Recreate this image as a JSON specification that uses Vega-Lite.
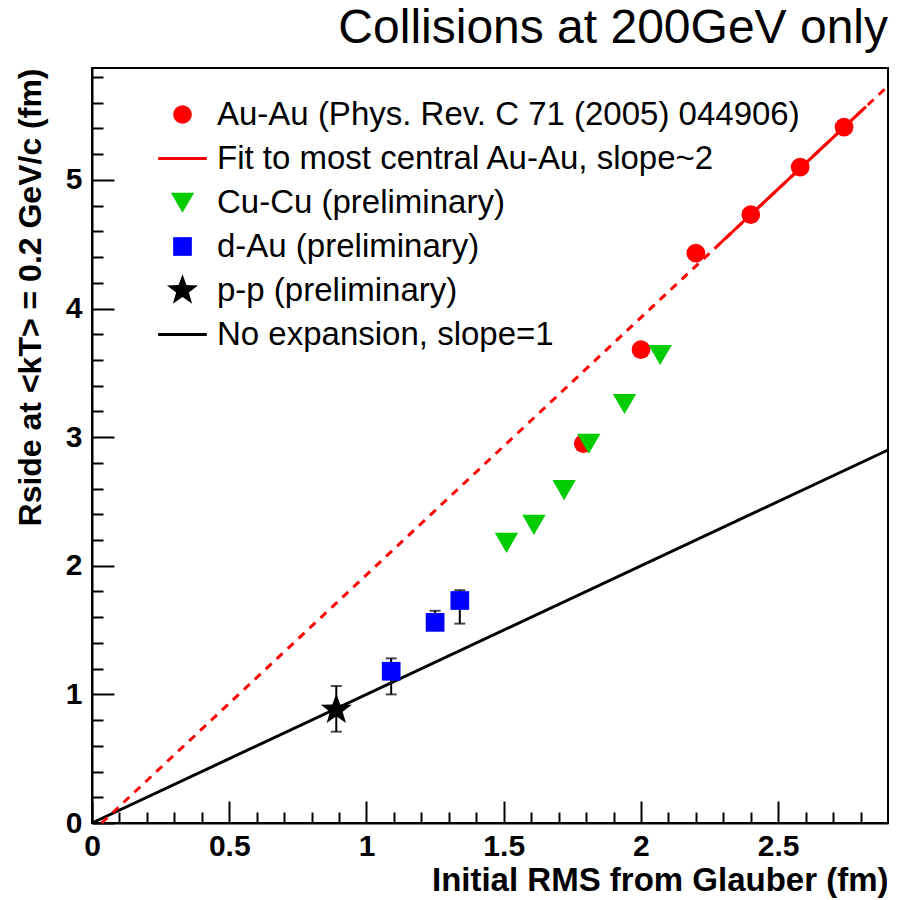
{
  "$schema": "https://vega.github.io/schema/vega-lite/v6.json",
  "width": 796,
  "height": 755,
  "autosize": {"type": "none"},
  "padding": {"left": 92, "top": 68, "right": 13, "bottom": 77},
  "background": "white",
  "title": {
    "text": "Collisions at 200GeV only",
    "anchor": "end",
    "frame": "group",
    "fontSize": 48,
    "fontWeight": "normal",
    "font": "Liberation Sans",
    "color": "black",
    "baseline": "alphabetic",
    "offset": 21,
    "dy": 50
  },
  "datasets": {
    "points": [
      {"series": "Au-Au (Phys. Rev. C 71 (2005) 044906)", "x": 1.79, "y": 2.95},
      {"series": "Au-Au (Phys. Rev. C 71 (2005) 044906)", "x": 2.0, "y": 3.68},
      {"series": "Au-Au (Phys. Rev. C 71 (2005) 044906)", "x": 2.2, "y": 4.43},
      {"series": "Au-Au (Phys. Rev. C 71 (2005) 044906)", "x": 2.4, "y": 4.73},
      {"series": "Au-Au (Phys. Rev. C 71 (2005) 044906)", "x": 2.58, "y": 5.1},
      {"series": "Au-Au (Phys. Rev. C 71 (2005) 044906)", "x": 2.74, "y": 5.41},
      {"series": "Cu-Cu (preliminary)", "x": 1.51, "y": 2.18},
      {"series": "Cu-Cu (preliminary)", "x": 1.61, "y": 2.32},
      {"series": "Cu-Cu (preliminary)", "x": 1.72, "y": 2.59},
      {"series": "Cu-Cu (preliminary)", "x": 1.81, "y": 2.95},
      {"series": "Cu-Cu (preliminary)", "x": 1.94, "y": 3.26},
      {"series": "Cu-Cu (preliminary)", "x": 2.07, "y": 3.64},
      {"series": "d-Au (preliminary)", "x": 1.09, "y": 1.18, "lo": 1.0, "hi": 1.28},
      {"series": "d-Au (preliminary)", "x": 1.25, "y": 1.56, "lo": 1.5, "hi": 1.65},
      {"series": "d-Au (preliminary)", "x": 1.34, "y": 1.73, "lo": 1.55, "hi": 1.81},
      {"series": "p-p (preliminary)", "x": 0.89, "y": 0.88, "lo": 0.71, "hi": 1.065}
    ],
    "lines": [
      {"line": "noexp", "x": 0, "y": 0},
      {"line": "noexp", "x": 2.9, "y": 2.9},
      {"line": "fitdash", "x": 0.035, "y": 0},
      {"line": "fitdash", "x": 2.9, "y": 5.73},
      {"line": "fitsolid", "x": 2.28, "y": 4.49},
      {"line": "fitsolid", "x": 2.82, "y": 5.57}
    ]
  },
  "encoding": {
    "x": {
      "field": "x", "type": "quantitative",
      "scale": {"domain": [0, 2.9], "nice": false, "zero": false},
      "axis": {
        "orient": "bottom", "title": "Initial RMS from Glauber (fm)",
        "titleAnchor": "end", "titleFont": "Liberation Sans", "titleFontSize": 33,
        "titleFontWeight": "bold", "titleColor": "black", "titlePadding": -8,
        "labelFont": "Liberation Sans", "labelFontSize": 30,
        "labelFontWeight": "bold", "labelColor": "black", "labelPadding": 30,
        "labelFlush": false, "labelOverlap": false,
        "labelExpr": "abs(datum.value*2 - round(datum.value*2)) < 0.001 ? format(datum.value, '.2~f') : ''",
        "domain": true, "domainColor": "black", "domainWidth": 2, "grid": false,
        "ticks": true, "tickWidth": 2, "tickColor": "black",
        "tickSize": {"condition": {"test": "abs(datum.value*2 - round(datum.value*2)) < 0.001", "value": -22}, "value": -11},
        "values": [0,0.1,0.2,0.3,0.4,0.5,0.6,0.7,0.8,0.9,1,1.1,1.2,1.3,1.4,1.5,1.6,1.7,1.8,1.9,2,2.1,2.2,2.3,2.4,2.5,2.6,2.7,2.8]
      }
    },
    "y": {
      "field": "y", "type": "quantitative",
      "scale": {"domain": [0, 5.87], "nice": false, "zero": false},
      "axis": {
        "orient": "left", "title": "Rside at <kT> = 0.2 GeV/c (fm)",
        "titleAnchor": "end", "titleFont": "Liberation Sans", "titleFontSize": 32,
        "titleFontWeight": "bold", "titleColor": "black", "titlePadding": 18,
        "labelFont": "Liberation Sans", "labelFontSize": 30,
        "labelFontWeight": "bold", "labelColor": "black", "labelPadding": 32,
        "labelFlush": false, "labelOverlap": false,
        "labelExpr": "abs(datum.value - round(datum.value)) < 0.001 ? format(datum.value, 'd') : ''",
        "domain": true, "domainColor": "black", "domainWidth": 2, "grid": false,
        "ticks": true, "tickWidth": 2, "tickColor": "black",
        "tickSize": {"condition": {"test": "abs(datum.value - round(datum.value)) < 0.001", "value": -22}, "value": -11},
        "values": [0,0.2,0.4,0.6,0.8,1,1.2,1.4,1.6,1.8,2,2.2,2.4,2.6,2.8,3,3.2,3.4,3.6,3.8,4,4.2,4.4,4.6,4.8,5,5.2,5.4,5.6,5.8]
      }
    }
  },
  "layer": [
    {
      "data": {"name": "lines"},
      "transform": [{"filter": "datum.line == 'noexp'"}],
      "mark": {"type": "line", "color": "black", "strokeWidth": 3}
    },
    {
      "data": {"name": "lines"},
      "transform": [{"filter": "datum.line == 'fitdash'"}],
      "mark": {"type": "line", "color": "#ff0000", "strokeWidth": 3, "strokeDash": [8, 7]}
    },
    {
      "data": {"name": "lines"},
      "transform": [{"filter": "datum.line == 'fitsolid'"}],
      "mark": {"type": "line", "color": "#ff0000", "strokeWidth": 3}
    },
    {
      "data": {"name": "points"},
      "transform": [{"filter": "isValid(datum.lo)"}],
      "mark": {"type": "errorbar", "ticks": true, "color": "black", "thickness": 2, "size": 11},
      "encoding": {
        "y": {
          "field": "lo", "type": "quantitative",
          "scale": {"domain": [0, 5.87], "nice": false, "zero": false},
          "axis": {
            "orient": "left", "title": "Rside at <kT> = 0.2 GeV/c (fm)",
            "titleAnchor": "end", "titleFont": "Liberation Sans", "titleFontSize": 32,
            "titleFontWeight": "bold", "titleColor": "black", "titlePadding": 18,
            "labelFont": "Liberation Sans", "labelFontSize": 30,
            "labelFontWeight": "bold", "labelColor": "black", "labelPadding": 32,
            "labelFlush": false, "labelOverlap": false,
            "labelExpr": "abs(datum.value - round(datum.value)) < 0.001 ? format(datum.value, 'd') : ''",
            "domain": true, "domainColor": "black", "domainWidth": 2, "grid": false,
            "ticks": true, "tickWidth": 2, "tickColor": "black",
            "tickSize": {"condition": {"test": "abs(datum.value - round(datum.value)) < 0.001", "value": -22}, "value": -11},
            "values": [0,0.2,0.4,0.6,0.8,1,1.2,1.4,1.6,1.8,2,2.2,2.4,2.6,2.8,3,3.2,3.4,3.6,3.8,4,4.2,4.4,4.6,4.8,5,5.2,5.4,5.6,5.8]
          }
        },
        "y2": {"field": "hi"}
      }
    },
    {
      "data": {"name": "points"},
      "mark": {"type": "point", "filled": true, "opacity": 1, "size": 350},
      "encoding": {
        "color": {
          "field": "series", "type": "nominal",
          "scale": {
            "domain": ["Au-Au (Phys. Rev. C 71 (2005) 044906)", "Fit to most central Au-Au, slope~2", "Cu-Cu (preliminary)", "d-Au (preliminary)", "p-p (preliminary)", "No expansion, slope=1"],
            "range": ["#ff0000", "#ff0000", "#00cc00", "#0000ff", "#000000", "#000000"]
          },
          "legend": {
            "title": null,
            "encode": {
              "symbols": {
                "update": {
                  "stroke": {"scale": "color", "field": "value"},
                  "strokeWidth": {"signal": "(datum.value == 'Fit to most central Au-Au, slope~2' || datum.value == 'No expansion, slope=1') ? 3 : 0"}
                }
              }
            }
          }
        },
        "shape": {
          "field": "series", "type": "nominal",
          "scale": {
            "domain": ["Au-Au (Phys. Rev. C 71 (2005) 044906)", "Fit to most central Au-Au, slope~2", "Cu-Cu (preliminary)", "d-Au (preliminary)", "p-p (preliminary)", "No expansion, slope=1"],
            "range": ["circle", "M-2.6,0H2.6", "M-1.25,-1.05L1.25,-1.05L0,1.1Z", "square", "M0,-1.75L0.42,-0.58L1.66,-0.54L0.68,0.22L1.03,1.41L0,0.7L-1.03,1.41L-0.68,0.22L-1.66,-0.54L-0.42,-0.58Z", "M-2.6,0H2.6"]
          },
          "legend": {"title": null}
        }
      }
    }
  ],
  "config": {
    "view": {"stroke": "black", "strokeWidth": 2},
    "legend": {
      "orient": "none",
      "legendX": 74,
      "legendY": 30,
      "padding": 0,
      "symbolSize": 350,
      "symbolOpacity": 1,
      "labelFont": "Liberation Sans",
      "labelFontSize": 33,
      "labelColor": "black",
      "labelOffset": 18,
      "labelLimit": 900,
      "rowPadding": 10,
      "labelBaseline": "middle"
    }
  }
}
